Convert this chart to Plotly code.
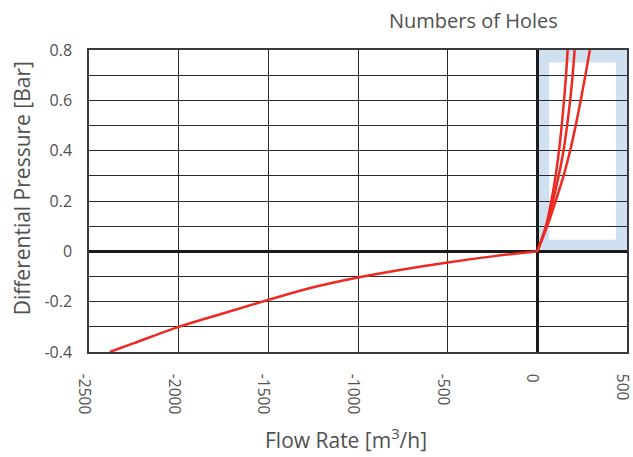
import plotly.graph_objects as go

# Reverse-flow branch
neg_x = [-2384, -2250, -2000, -1750, -1500, -1250, -1000, -750, -500, -250, 0]
neg_y = [-0.4, -0.365, -0.3, -0.246, -0.193, -0.143, -0.104, -0.072, -0.044, -0.02, 0]

# Forward-flow branches (numbers of holes)
pos_y = [0, 0.1, 0.2, 0.3, 0.4, 0.5, 0.6, 0.7, 0.8]
holes_a_x = [0, 48, 78, 102, 121, 136, 149, 160, 169]
holes_b_x = [0, 50, 87, 119, 146, 166, 183, 197, 208]
holes_c_x = [0, 55, 102, 146, 183, 214, 242, 268, 293]

x_ticks = [-2500, -2000, -1500, -1000, -500, 0, 500]
y_ticks = [-0.4, -0.2, 0, 0.2, 0.4, 0.6, 0.8]
y_tick_text = ["-0.4", "-0.2", "0", "0.2", "0.4", "0.6", "0.8"]

RED = "#ec2a22"
FONT = "Open Sans"
TXT = "#505050"

fig = go.Figure()
line = dict(color=RED, width=2.5, shape="spline", smoothing=1.0)
fig.add_trace(go.Scatter(x=neg_x, y=neg_y, mode="lines", line=line, showlegend=False))
for xs in (holes_a_x, holes_b_x, holes_c_x):
    fig.add_trace(go.Scatter(x=xs, y=pos_y, mode="lines", line=line, showlegend=False))

# Highlight box (light blue frame)
fig.add_shape(type="rect", xref="x", yref="y", x0=0, x1=500, y0=0, y1=0.8,
              fillcolor="#cfe0f1", line=dict(width=0), layer="below")
fig.add_shape(type="rect", xref="x", yref="y", x0=66, x1=438, y0=0.046, y1=0.75,
              fillcolor="white", line=dict(width=0), layer="below")

fig.add_annotation(text="Numbers of Holes", xref="paper", yref="paper",
                   x=0.714, y=1.099, xanchor="center", yanchor="middle", showarrow=False,
                   font=dict(family=FONT, size=20, color=TXT))
fig.add_annotation(text="Flow Rate [m<sup>3</sup>/h]", xref="paper", yref="paper",
                   x=0.478, y=-0.285, xanchor="center", yanchor="middle", showarrow=False,
                   font=dict(family=FONT, size=21, color=TXT))
fig.add_annotation(text="Differential Pressure [Bar]", xref="paper", yref="paper",
                   x=-0.124, y=0.543, xanchor="center", yanchor="middle", showarrow=False,
                   textangle=-90, font=dict(family=FONT, size=21, color=TXT))

fig.update_layout(
    width=633, height=457,
    margin=dict(l=89, r=6, t=50, b=105, autoexpand=False),
    plot_bgcolor="white", paper_bgcolor="white",
    font=dict(family=FONT, color=TXT),
    xaxis=dict(
        range=[-2500, 500], tickvals=x_ticks, ticktext=[str(v) for v in x_ticks],
        tickangle=90, tickfont=dict(size=15.5, color=TXT),
        ticklabeloverflow="allow", automargin=False, ticklabelshift=-5,
        showgrid=True, gridcolor="#2a2a2a", gridwidth=1,
        zeroline=True, zerolinecolor="#1a1a1a", zerolinewidth=2.5,
        showline=True, linecolor="#3a3a3a", linewidth=1.5, mirror=True,
        ticks="", ticklen=0, ticklabelstandoff=17,
    ),
    yaxis=dict(
        range=[-0.4, 0.8], tickvals=y_ticks, ticktext=y_tick_text,
        tickfont=dict(size=16, color=TXT),
        ticklabeloverflow="allow", automargin=False,
        showgrid=True, gridcolor="#2a2a2a", gridwidth=1,
        minor=dict(dtick=0.1, tick0=0, showgrid=True, gridcolor="#2a2a2a", gridwidth=1),
        zeroline=True, zerolinecolor="#1a1a1a", zerolinewidth=2.5,
        showline=True, linecolor="#3a3a3a", linewidth=1.5, mirror=True,
        ticks="", ticklen=0, ticklabelstandoff=12,
    ),
)

fig.write_html("out.html")
